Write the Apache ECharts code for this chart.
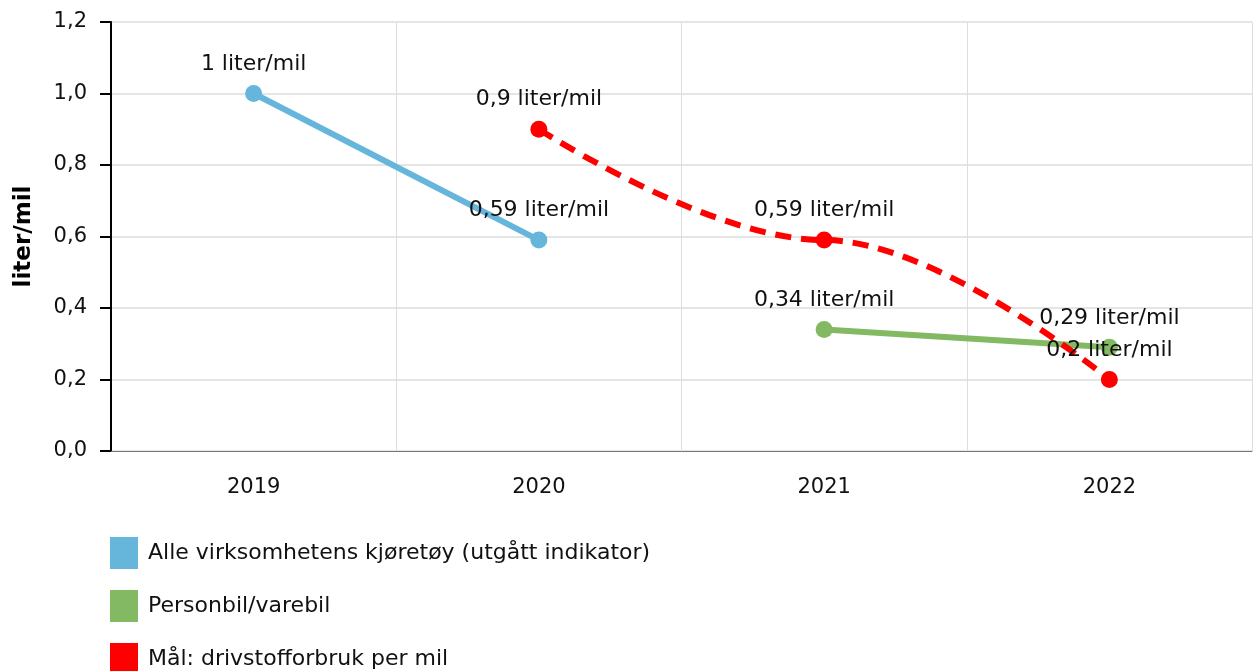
<!DOCTYPE html>
<html>
<head>
<meta charset="utf-8">
<script src="https://cdn.jsdelivr.net/npm/echarts@6/dist/echarts.min.js"></script>
<style>
  html, body { margin: 0; padding: 0; background: #fff; }
  #chartDom { width: 1253px; height: 671px; }
</style>
</head>
<body>
<div id="chartDom"></div>
<script>
// 年
const years = ['2019', '2020', '2021', '2022']
// 系列データ
const alleData = [1, 0.59, null, null]
const personbilData = [null, null, 0.34, 0.29]
const maalData = [null, 0.9, 0.59, 0.2]
const seriesNames = [
  'Alle virksomhetens kjøretøy (utgått indikator)',
  'Personbil/varebil',
  'Mål: drivstofforbruk per mil'
]
const unit = 'liter/mil'

const font = 'DejaVu Sans, Verdana, sans-serif'
const fmtNum = (v) => String(v).replace('.', ',')
const label = {
  show: true,
  position: 'top',
  distance: 10,
  fontFamily: font,
  fontSize: 22,
  color: '#111',
  formatter: (p) => fmtNum(p.value) + ' ' + unit
}

const chartDom = document.getElementById('chartDom')
const myChart = echarts.init(chartDom)

const option = {
  animation: false,
  grid: { left: 111, right: 1, top: 22, bottom: 220 },
  legend: {
    orient: 'vertical',
    left: 110,
    top: 537,
    height: 300,
    padding: 0,
    itemWidth: 28,
    itemHeight: 32,
    itemGap: 21,
    icon: 'rect',
    textStyle: { fontFamily: font, fontSize: 22, color: '#111', padding: [0, 0, 0, 5] },
    data: seriesNames
  },
  xAxis: {
    type: 'category',
    data: years,
    boundaryGap: true,
    axisLine: { lineStyle: { color: '#777', width: 1 } },
    axisTick: { alignWithLabel: true, length: 10, lineStyle: { color: '#bbb' } },
    axisLabel: { fontFamily: font, fontSize: 21, color: '#111', margin: 26 },
    splitLine: { show: true, lineStyle: { color: '#ddd' } }
  },
  yAxis: {
    type: 'value',
    min: 0,
    max: 1.2,
    interval: 0.2,
    name: unit,
    nameLocation: 'middle',
    nameGap: 75,
    nameTextStyle: { fontFamily: font, fontSize: 23, fontWeight: 'bold', color: '#000' },
    axisLine: { show: true, lineStyle: { color: '#000', width: 2 } },
    axisTick: { show: true, length: 11, lineStyle: { color: '#000', width: 2 } },
    axisLabel: {
      fontFamily: font,
      fontSize: 21,
      color: '#111',
      margin: 24,
      formatter: (v) => v.toFixed(1).replace('.', ',')
    },
    splitLine: { lineStyle: { color: '#ddd', width: 1.5 } }
  },
  series: [
    {
      name: seriesNames[0],
      type: 'line',
      data: alleData,
      color: '#66b6dc',
      symbol: 'circle',
      symbolSize: 17,
      lineStyle: { width: 6 },
      label: label
    },
    {
      name: seriesNames[1],
      type: 'line',
      data: personbilData,
      color: '#84b963',
      symbol: 'circle',
      symbolSize: 17,
      lineStyle: { width: 6 },
      label: label
    },
    {
      name: seriesNames[2],
      type: 'line',
      data: maalData,
      color: '#ff0000',
      symbol: 'circle',
      symbolSize: 17,
      smooth: 0.4,
      smoothMonotone: 'x',
      lineStyle: { width: 6, type: [16, 10] },
      label: label
    }
  ]
}
myChart.setOption(option)
</script>
</body>
</html>
